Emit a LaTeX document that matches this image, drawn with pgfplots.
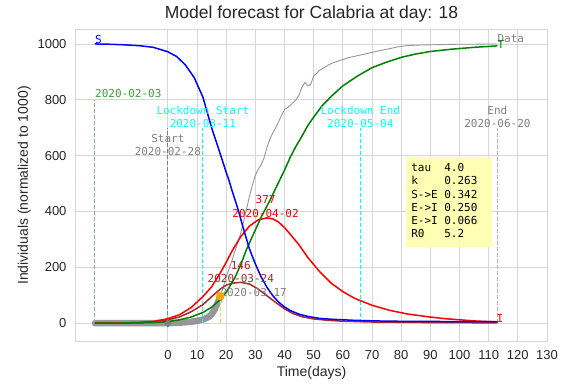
\documentclass[border=0pt]{standalone}
\usepackage{fontspec}
\setmainfont{Liberation Sans}
\newfontfamily\mono{DejaVu Sans Mono}
\usepackage{pgfplots}
\pgfplotsset{compat=1.18}
\definecolor{txt}{RGB}{38,38,38}
\definecolor{gridc}{RGB}{214,214,214}
\definecolor{mgreen}{RGB}{0,128,0}
\definecolor{lgreen}{RGB}{60,160,60}
\definecolor{mbrown}{RGB}{165,42,42}
\definecolor{mgray}{RGB}{128,128,128}
\definecolor{dgray}{RGB}{150,150,150}
\definecolor{tgray}{RGB}{140,140,140}
\definecolor{mcyan}{RGB}{0,255,255}
\definecolor{morange}{RGB}{255,165,0}
\definecolor{boxy}{RGB}{255,255,179}
\pgfplotstableread{
x y
-25 0
-20 0
-15 0
-10 0
-5 0
0 0
3 1
6 3
8 5
10 8
12 13
14 22
15 32
16 48
17 70
18 97
}\thickdata
\pgfplotstableread{
x y
18 97
19 130
20 165
21 195
22 225
23 258
24 290
25 322
26 365
27 410
28 455
29 495
30 530
31 552
32 567
33 592
34 630
35 660
36 682
37 700
38 722
39 745
40 765
41 772
42 780
43 790
44 801
45 818
46 846
47 862
48 849
49 856
50 885
51 895
52 905
54 918
56 930
58 937
60 944
62 951
65 958
68 965
70 970
73 977
76 983
79 990
82 994
86 996
90 997
95 998
100 999
105 999
110 1000
113 1000
}\thindata
\pgfplotstableread{
x y
-25 1000
-20 999
-15 997
-10 994
-5 988
0 972
3 955
6 925
9 880
12 810
15 700
18 605
20 540
21 510
22 475
24 410
26 335
28 265
30 212
32 165
34 128
36 98
38 75
40 58
42 45
45 32
48 24
52 17
56 14
64 10
75 7
90 6
113 5
}\Sdata
\pgfplotstableread{
x y
-25 0
-15 0.5
-10 1
-5 2
0 5
4 12
8 22
12 38
15 57
18 85
20 110
23 163
25 210
27 265
30 334
32 380
35 440
38 505
40 548
42 595
44 635
46 670
48 708
50 738
53 780
56 812
60 850
65 885
70 915
75 935
80 952
85 964
90 973
97 981
105 988
113 993
}\Rdata
\pgfplotstableread{
x y
-25 0
-15 1
-10 2
-5 6
0 16
4 30
8 56
12 95
15 130
18 180
20 218
22 258
25 310
28 348
31 370
34 377
36 373
38 362
40 342
42 318
45 280
48 235
52 185
56 143
60 113
64 89
70 64
76 46
82 33
89 23
95 16
100 12
105 8
113 4
}\Idata
\pgfplotstableread{
x y
-25 0
-15 1
-10 2
-5 5
0 12
4 22
8 41
12 66
15 95
18 122
20 136
22 143
25 146
28 140
31 122
34 98
37 74
40 51
43 34
46 23
50 15
55 10
60 7
70 4
90 2
113 1
}\Edata
\begin{document}
\begin{tikzpicture}
\path[use as bounding box] (-76pt,-42pt) rectangle (486pt,341pt);
\begin{axis}[at={(0,0)},anchor=south west,scale only axis,width=471pt,height=311pt,
  xmin=-31.5,xmax=130,ymin=-64,ymax=1050,
  xtick={0,10,...,130}, ytick={0,200,...,1000},
  grid=major, grid style={gridc, line width=0.9pt},
  axis line style={gridc, line width=1pt},
  major tick length=0pt,
  tick label style={font=\fontsize{13}{15}\selectfont, text=txt},
  /pgf/number format/assume math mode=true,
  /pgf/number format/1000 sep={},
  xticklabel style={yshift=-6pt},
  yticklabel style={xshift=-6pt},
  xlabel={Time(days)}, ylabel={Individuals (normalized to 1000)},
  label style={font=\fontsize{14}{16}\selectfont, text=txt},
  xlabel style={yshift=0pt},
  title={Model forecast for Calabria at day: 18},
  title style={font=\fontsize{17.5}{20}\selectfont, text=txt, yshift=-2pt},
  clip=false,
]
% thick data
\addplot[tgray, opacity=0.9, line width=6.5pt, line cap=round, line join=round] table {\thickdata};
% vertical marker lines
\addplot[lgreen!70!white, dash pattern=on 4pt off 2pt, line width=1pt] coordinates {(-25,0) (-25,800)};
\addplot[mgray, dash pattern=on 4pt off 2pt, line width=1pt] coordinates {(0,-15) (0,700)};
\addplot[mcyan, dash pattern=on 4pt off 2pt, line width=1pt] coordinates {(12,0) (12,700)};
\addplot[mcyan, dash pattern=on 4pt off 2pt, line width=1pt] coordinates {(66,0) (66,700)};
\addplot[mgray!60!white, dash pattern=on 4pt off 2pt, line width=1pt] coordinates {(113,0) (113,700)};
\addplot[morange!60!white, dash pattern=on 4pt off 2pt, line width=1pt] coordinates {(18,0) (18,97)};
% thin data
\addplot[dgray, line width=0.9pt] table {\thindata};
% model curves
\addplot[mbrown, line width=1.5pt] table {\Edata};
\addplot[red, line width=1.5pt] table {\Idata};
\addplot[mgreen, line width=1.5pt] table {\Rdata};
\addplot[blue, line width=1.5pt] table {\Sdata};
% markers
\addplot[only marks, mark=diamond*, mark size=4pt, color=gray!90!black, fill=gray] coordinates {(0,0)};
\addplot[only marks, mark=*, mark size=4pt, color=morange] coordinates {(18,97)};
% annotations
\begin{scope}[every node/.style={font=\mono\fontsize{11}{13.3}\selectfont, inner sep=0pt}]
\node[anchor=base west, text=blue] at (axis cs:-25,1003) {S};
\node[anchor=base west, text=mgray] at (axis cs:113,1006) {Data};
\node[anchor=base west, text=mgreen] at (axis cs:113,982) {T};
\node[anchor=base west, text=red] at (axis cs:112.7,4) {I};
\node[anchor=base west, text=lgreen] at (axis cs:-25,808) {2020-02-03};
\node[anchor=base, text=mgray, align=center] at (axis cs:0,600) {Start\\2020-02-28};
\node[anchor=base, text=mcyan, align=center] at (axis cs:12,700) {Lockdown Start\\2020-03-11};
\node[anchor=base, text=mcyan, align=center] at (axis cs:66,700) {Lockdown End\\2020-05-04};
\node[anchor=base, text=mgray, align=center] at (axis cs:113,700) {End\\2020-06-20};
\node[anchor=base, text=red, align=center] at (axis cs:33.5,380) {377\\2020-04-02};
\node[anchor=base, text=mbrown, align=center] at (axis cs:25,146) {146\\2020-03-24};
\node[anchor=base west, text=mgray] at (axis cs:18,97) {2020-03-17};
\node[anchor=north west, fill=boxy, inner sep=5.5pt] at (axis cs:81.5,597)
  {\begin{tabular}{@{}l@{\ }l@{\hspace{9pt}}}tau & 4.0\\ k & 0.263\\ S->E & 0.342\\ E->I & 0.250\\ E->I & 0.066\\ R0 & 5.2\end{tabular}};
\end{scope}
\end{axis}
\end{tikzpicture}
\end{document}
